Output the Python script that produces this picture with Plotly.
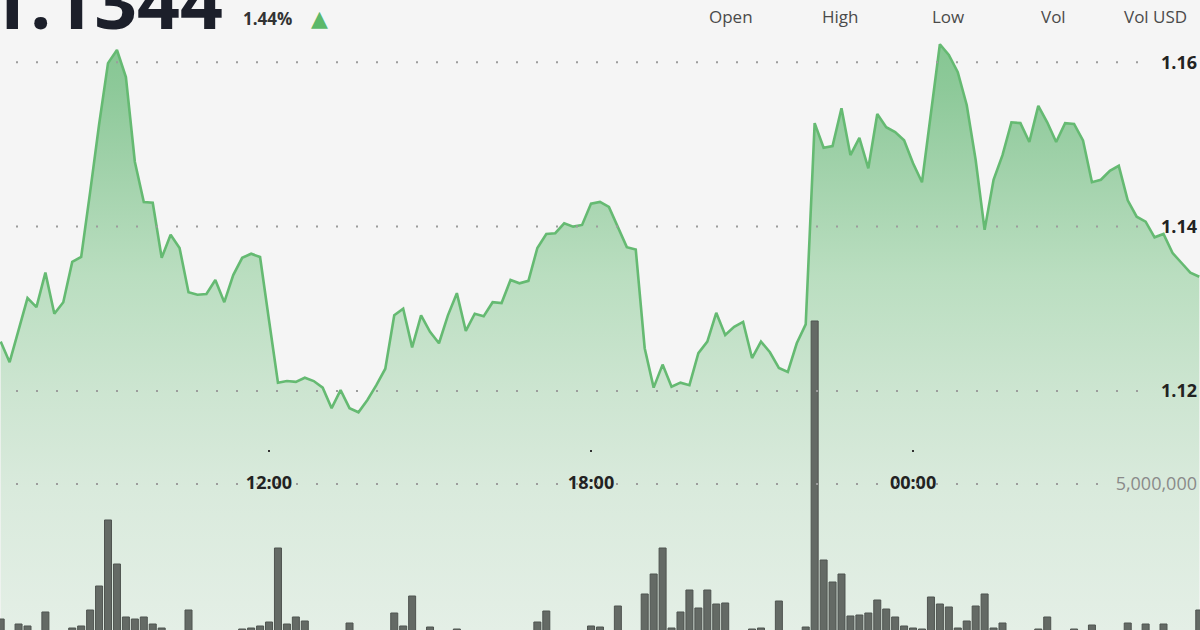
import pandas as pd
import plotly.graph_objects as go

# ---- data ----
start_time = "2025-03-10 07:00"
step_minutes = 10

price = [
    1.1260, 1.1235, 1.1274, 1.1313, 1.1302, 1.1344, 1.1294, 1.1308, 1.1357, 1.1363,
    1.1442, 1.1524, 1.1599, 1.1615, 1.1582, 1.1479, 1.1430, 1.1429, 1.1362, 1.1390,
    1.1374, 1.1320, 1.1317, 1.1318, 1.1335, 1.1308, 1.1341, 1.1362, 1.1367, 1.1363,
    1.1286, 1.1210, 1.1212, 1.1211, 1.1216, 1.1212, 1.1204, 1.1179, 1.1201, 1.1179,
    1.1174, 1.1189, 1.1207, 1.1227, 1.1292, 1.1300, 1.1253, 1.1292, 1.1272, 1.1258,
    1.1292, 1.1319, 1.1273, 1.1294, 1.1291, 1.1308, 1.1307, 1.1335, 1.1331, 1.1334,
    1.1374, 1.1391, 1.1392, 1.1404, 1.1400, 1.1402, 1.1428, 1.1430, 1.1424, 1.1400,
    1.1375, 1.1372, 1.1252, 1.1204, 1.1232, 1.1205, 1.1210, 1.1207, 1.1246, 1.1260,
    1.1295, 1.1268, 1.1278, 1.1284, 1.1240, 1.1260, 1.1247, 1.1228, 1.1223, 1.1258,
    1.1281, 1.1526, 1.1496, 1.1498, 1.1544, 1.1487, 1.1508, 1.1471, 1.1537, 1.1521,
    1.1515, 1.1505, 1.1477, 1.1454, 1.1538, 1.1622, 1.1609, 1.1588, 1.1548, 1.1481,
    1.1396, 1.1457, 1.1487, 1.1527, 1.1526, 1.1503, 1.1547, 1.1527, 1.1503, 1.1526,
    1.1525, 1.1505, 1.1454, 1.1457, 1.1468, 1.1474, 1.1432, 1.1412, 1.1406, 1.1387,
    1.1391, 1.1368, 1.1356, 1.1344, 1.1339,
]

volume = [
    439000, 0, 270000, 203000, 0, 676000, 0, 0, 135000, 203000,
    743000, 1554000, 3784000, 2297000, 507000, 439000, 507000, 270000, 135000, 0,
    0, 743000, 0, 0, 0, 0, 0, 101000, 135000, 203000,
    338000, 2838000, 270000, 507000, 372000, 0, 0, 0, 0, 304000,
    0, 0, 0, 0, 642000, 203000, 1216000, 0, 169000, 0,
    0, 101000, 0, 0, 0, 0, 0, 0, 0, 0,
    338000, 709000, 0, 0, 0, 0, 203000, 169000, 0, 878000,
    0, 0, 1284000, 1959000, 2838000, 135000, 676000, 1419000, 811000, 1419000,
    946000, 980000, 0, 0, 101000, 135000, 0, 1047000, 0, 0,
    169000, 10507000, 2432000, 1689000, 1959000, 541000, 574000, 642000, 1081000, 777000,
    507000, 203000, 135000, 101000, 1182000, 946000, 845000, 135000, 372000, 878000,
    1284000, 135000, 304000, 0, 0, 0, 101000, 507000, 0, 0,
    101000, 0, 236000, 0, 0, 0, 304000, 0, 270000, 0,
    270000, 0, 0, 0, 743000,
]

x_range = ["2025-03-10 06:59:15", "2025-03-11 05:20:48"]
time_ticks = ["2025-03-10 12:00", "2025-03-10 18:00", "2025-03-11 00:00"]
time_labels = ["12:00", "18:00", "00:00"]

price_ticks = [1.12, 1.14, 1.16]
price_range = [1.090894, 1.167584]
volume_ticks = [5000000]
volume_labels = ["5,000,000"]
volume_range = [67568, 21351488]

header_price = "1.1344"
header_change = "1.44%"
header_cols = ["Open", "High", "Low", "Vol", "Vol USD"]
header_cols_x = [731, 840, 948, 1053, 1155]

# ---- figure ----
times = pd.date_range(start_time, periods=len(price), freq=f"{step_minutes}min")

W, H = 1200, 630
BG = "#f5f5f5"
FONT = "Open Sans"

fig = go.Figure()

fig.add_trace(go.Scatter(
    x=times, y=price, mode="lines",
    line=dict(color="#65ba72", width=2.6),
    fill="tozeroy",
    fillgradient=dict(
        type="vertical",
        start=price_range[0], stop=1.1627,
        colorscale=[
            [0.0, "#e4efe6"],
            [0.24, "#d9eadc"],
            [0.40, "#cde5d1"],
            [0.60, "#badec0"],
            [0.76, "#a4d3ad"],
            [0.92, "#8dc999"],
            [1.0, "#85c692"],
        ],
    ),
    hoverinfo="skip",
    yaxis="y",
))

fig.add_trace(go.Bar(
    x=times, y=volume,
    width=470000,
    marker=dict(color="#646a65", line=dict(color="#4f5450", width=1)),
    hoverinfo="skip",
    yaxis="y2",
))

shapes = []
for t in price_ticks:
    shapes.append(dict(type="line", xref="paper", yref="y",
                       x0=16 / W, x1=1146 / W, y0=t, y1=t,
                       line=dict(color="#9c9c9c", width=2, dash="2px,18px"),
                       layer="above"))
for t in volume_ticks:
    shapes.append(dict(type="line", xref="paper", yref="y2",
                       x0=16 / W, x1=1100 / W, y0=t, y1=t,
                       line=dict(color="#9c9c9c", width=2, dash="2px,18px"),
                       layer="above"))

annotations = [
    dict(text=header_price, xref="paper", yref="paper", x=-15 / W, y=1.0,
         xanchor="left", yanchor="middle", showarrow=False,
         font=dict(family=FONT, size=75, color="#1c1f2a", weight="bold")),
    dict(text=header_change, xref="paper", yref="paper", x=241 / W, y=1 - 18 / H,
         xanchor="left", yanchor="middle", showarrow=False,
         font=dict(family=FONT, size=17, color="#333333", weight="bold")),
    dict(text="▲", xref="paper", yref="paper", x=319 / W, y=1 - 18 / H,
         xanchor="center", yanchor="middle", showarrow=False,
         font=dict(family="DejaVu Sans", size=22, color="#5cb86a")),
]
for label, cx in zip(header_cols, header_cols_x):
    annotations.append(dict(text=label, xref="paper", yref="paper", x=cx / W, y=1 - 16 / H,
                            xanchor="center", yanchor="middle", showarrow=False,
                            font=dict(family=FONT, size=17, color="#4a4a4a")))

fig.update_layout(
    width=W, height=H,
    margin=dict(l=0, r=0, t=0, b=0),
    paper_bgcolor=BG, plot_bgcolor=BG,
    showlegend=False, bargap=0,
    hovermode=False,
    xaxis=dict(
        type="date", range=x_range,
        tickvals=time_ticks, ticktext=time_labels,
        anchor="free", position=(H - 449) / H,
        showgrid=False, zeroline=False, showline=False,
        ticks="outside", ticklen=2, tickwidth=2, tickcolor="#333333",
        ticklabelstandoff=15,
        tickfont=dict(family=FONT, size=18, color="#222222", weight="bold"),
    ),
    yaxis=dict(
        range=price_range, side="right",
        tickvals=price_ticks, ticktext=[f"{v:.2f}" for v in price_ticks],
        ticklabelposition="inside",
        showgrid=False, zeroline=False, showline=False, ticks="",
        tickfont=dict(family=FONT, size=18, color="#222222", weight="bold"),
    ),
    yaxis2=dict(
        range=volume_range, side="right", overlaying="y",
        tickvals=volume_ticks, ticktext=volume_labels,
        ticklabelposition="inside",
        showgrid=False, zeroline=False, showline=False, ticks="",
        tickfont=dict(family=FONT, size=18, color="#8a8a8a"),
    ),
    shapes=shapes,
    annotations=annotations,
)

fig.write_html("out.html", config={"displayModeBar": False, "staticPlot": True})
